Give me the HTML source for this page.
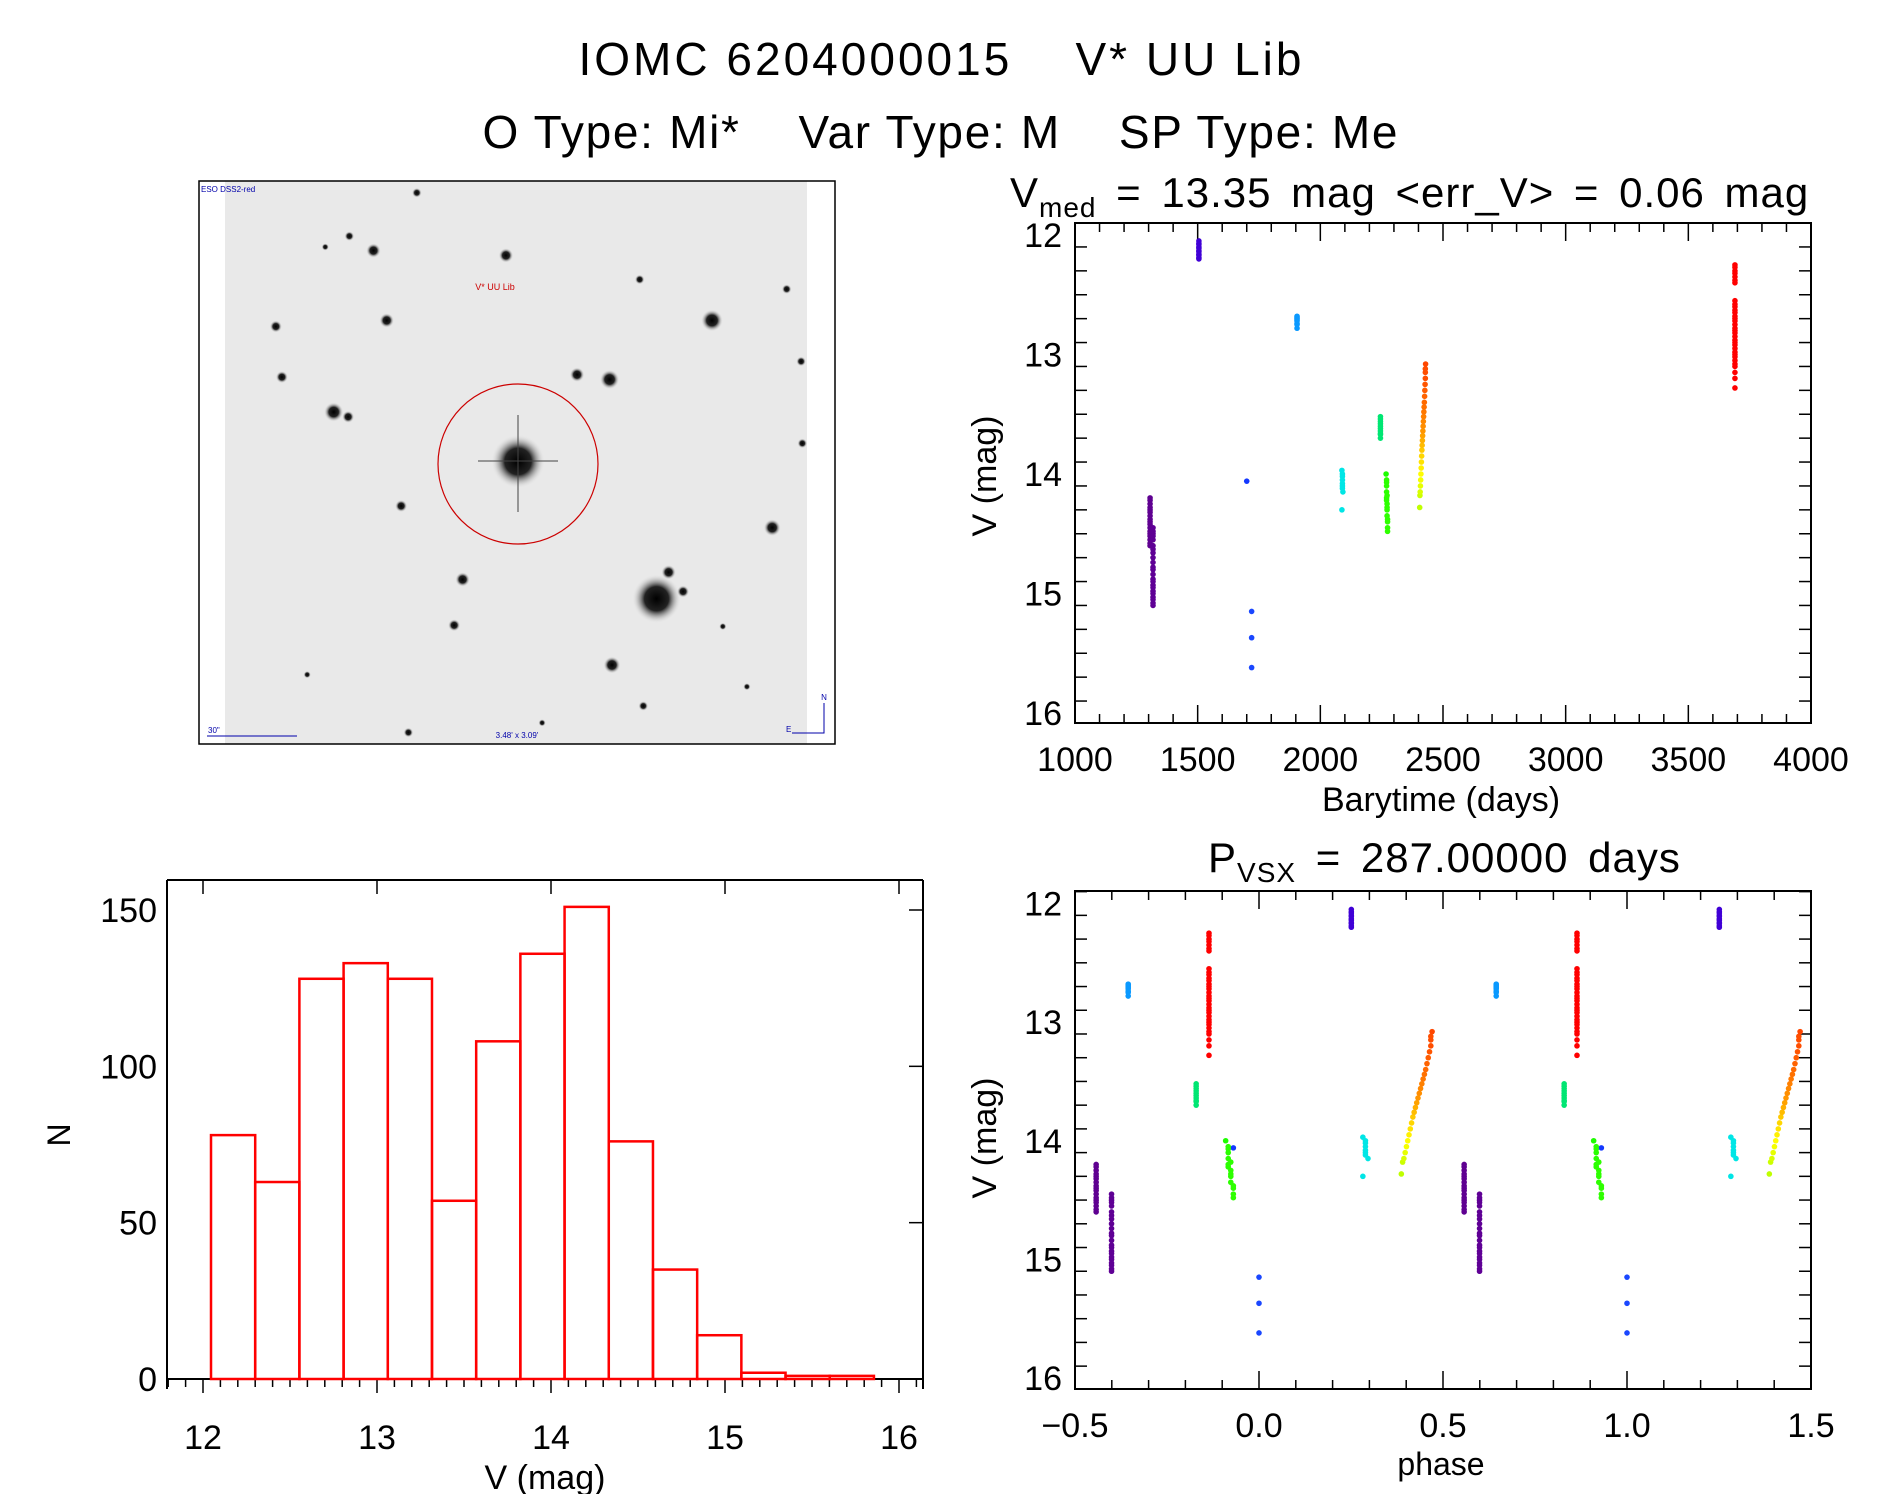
<!DOCTYPE html>
<html><head><meta charset="utf-8"><style>
html,body{margin:0;padding:0;background:#fff}
svg{display:block;font-family:"Liberation Sans",sans-serif}
text{white-space:pre}
</style></head><body>
<svg id="fig" width="1889" height="1494" viewBox="0 0 1889 1494" xmlns="http://www.w3.org/2000/svg">
<defs>
<radialGradient id="star"><stop offset="0" stop-color="#000"/><stop offset="0.5" stop-color="#222"/><stop offset="1" stop-color="#ddd" stop-opacity="0"/></radialGradient>
</defs>
<text x="940" y="75" font-size="46" text-anchor="middle" textLength="723" lengthAdjust="spacing">IOMC 6204000015    V* UU Lib</text>
<text x="940" y="148" font-size="46" text-anchor="middle" textLength="915" lengthAdjust="spacing">O Type: Mi*    Var Type: M    SP Type: Me</text>
<g id="sky"></g>
<g id="lc"></g>
<g id="ph"></g>
<g id="hist"></g>
</svg>
<script>
// ---------- data ----------
const lcTimes = [1306,1306,1306,1306,1306,1306,1306,1306,1306,1306,1306,1306,1306,1306,1306,1306,1306,
1318,1318,1318,1318,1318,1318,1318,1318,1318,1318,1318,1318,1318,1318,1318,1318,1318,1318,1318,1318,1318,1318,1318,
1505,1505,1505,1505,1505,1505,1505,1505,1505,1505,1505,
1700,1720,1720,1720,
1905,1905,1905,1905,1905,1905,1905,1905,
2088,2090,2090,2090,2092,2088,2090,2090,2090,
2245,2245,2245,2245,2245,2245,2245,2245,2245,2245,
2268,2270,2270,2270,2270,2272,2272,2272,2274,2274,2274,2270,2272,2274,2270,2272,
2405,2406,2407,2408,2409,2410,2411,2412,2413,2414,2415,2416,2417,2418,2419,2420,2421,2422,2423,2424,2425,2426,2427,2428,2428,2428,2429,
3690,3690,3690,3690,3690,3690,3690,3690,3690,3690,3690,3690,3690,3690,3690,3690,3690,3690,3690,3690,3690,3690,3690,3690,3690,3690,3690,3690,3690,3690,3690,3690,3690];
const lcMags = [14.2,14.22,14.25,14.28,14.3,14.32,14.35,14.38,14.4,14.42,14.45,14.48,14.5,14.52,14.55,14.58,14.6,
14.45,14.48,14.5,14.55,14.6,14.63,14.66,14.7,14.74,14.78,14.8,14.84,14.88,14.9,14.93,14.95,14.98,15.0,15.03,15.05,15.08,15.1,14.52,
12.05,12.07,12.08,12.1,12.11,12.13,12.14,12.16,12.17,12.19,12.2,
14.06,15.15,15.37,15.62,
12.68,12.69,12.7,12.71,12.72,12.74,12.75,12.78,
13.97,14.0,14.05,14.1,14.15,14.3,14.12,14.02,14.08,
13.52,13.54,13.56,13.58,13.6,13.62,13.64,13.66,13.67,13.7,
14.0,14.05,14.1,14.15,14.2,14.25,14.3,14.35,14.4,14.45,14.48,14.07,14.18,14.38,14.22,14.28,
14.28,14.18,14.15,14.1,14.05,14.0,13.95,13.9,13.85,13.8,13.76,13.72,13.68,13.64,13.6,13.56,13.52,13.48,13.44,13.4,13.35,13.3,13.25,13.2,13.15,13.12,13.08,
12.25,12.27,12.3,12.32,12.35,12.38,12.4,12.55,12.58,12.6,12.63,12.65,12.68,12.7,12.72,12.75,12.78,12.8,12.82,12.85,12.88,12.9,12.92,12.95,12.98,13.0,13.02,13.05,13.08,13.1,13.15,13.2,13.28];
const period = 287.0;
const epoch = 1720;
const histEdgeStart = 12.046, histBinWidth = 0.254;
const histCounts = [78,63,128,133,128,57,108,136,151,76,35,14,2,1,1];
const lcXTicks = [1000,1500,2000,2500,3000,3500,4000];
const magTicks = [12,13,14,15,16];
const phXTicks = [-0.5,0.0,0.5,1.0,1.5];
const phXLabels = ["\u22120.5","0.0","0.5","1.0","1.5"];
const histXTicks = [12,13,14,15,16];
const histYTicks = [0,50,100,150];

const NS="http://www.w3.org/2000/svg";
function mk(tag,attrs,parent,txt){const e=document.createElementNS(NS,tag);for(const k in attrs)e.setAttribute(k,attrs[k]);if(txt!==undefined)e.textContent=txt;parent.appendChild(e);return e;}

const hueStops=[[1300,280,28],[1505,258,42],[1720,228,55],[1905,205,52],[2090,180,45],[2245,150,45],[2270,110,50],[2405,75,50],[2418,35,50],[2430,15,50],[3690,0,50]];
function colorFor(t){let s=hueStops;if(t<=s[0][0])return `hsl(${s[0][1]},100%,${s[0][2]}%)`;
for(let i=1;i<s.length;i++){if(t<=s[i][0]){const f=(t-s[i-1][0])/(s[i][0]-s[i-1][0]);const h=s[i-1][1]+f*(s[i][1]-s[i-1][1]);const l=s[i-1][2]+f*(s[i][2]-s[i-1][2]);return `hsl(${h},100%,${l}%)`;}}
return 'hsl(0,100%,50%)';}

function frame(g,x0,y0,x1,y1){mk('rect',{x:x0,y:y0,width:x1-x0,height:y1-y0,fill:'none',stroke:'#000','stroke-width':2},g);}

// ---------- light curve ----------
(function(){
const g=document.getElementById('lc');
const X0=1075,X1=1811,Y0=223,Y1=723;
const xs=t=>X0+(t-1000)/3000*(X1-X0);
const ys=m=>235+(m-12)*(713-235)/4;
frame(g,X0,Y0,X1,Y1);
for(let t=1000;t<=4000;t+=100){const L=(t%500===0)?18:9;mk('line',{x1:xs(t),x2:xs(t),y1:Y1,y2:Y1-L,stroke:'#000','stroke-width':1.5},g);mk('line',{x1:xs(t),x2:xs(t),y1:Y0,y2:Y0+L,stroke:'#000','stroke-width':1.5},g);}
for(let i=0;i<=21;i++){const m=11.9+i*0.2;const maj=Math.abs(m-Math.round(m))<0.01;const L=maj?25:12;if(ys(m)<Y0||ys(m)>Y1)continue;mk('line',{x1:X0,x2:X0+L,y1:ys(m),y2:ys(m),stroke:'#000','stroke-width':1.5},g);mk('line',{x1:X1,x2:X1-L,y1:ys(m),y2:ys(m),stroke:'#000','stroke-width':1.5},g);}
lcXTicks.forEach(t=>{const e=mk('text',{x:xs(t),y:771,'font-size':34,'text-anchor':'middle'},g,String(t));});
magTicks.forEach(m=>{const e=mk('text',{x:1062,y:ys(m)+12,'font-size':34,'text-anchor':'end'},g,String(m));});
let e=mk('text',{x:1441,y:811,'font-size':34,'text-anchor':'middle'},g,'Barytime (days)');
e=mk('text',{x:0,y:0,'font-size':34,'text-anchor':'middle',transform:'translate(996,476) rotate(-90)'},g,'V (mag)');
e=mk('text',{x:1010,y:207,'font-size':42,'word-spacing':7,'letter-spacing':1},g);
e.innerHTML='V<tspan font-size="28" dy="10">med</tspan><tspan dy="-10"> = 13.35 mag &lt;err_V&gt; = 0.06 mag</tspan>';
for(let i=0;i<lcTimes.length;i++){const c=mk('circle',{cx:xs(lcTimes[i]),cy:ys(lcMags[i]),r:2.8,fill:colorFor(lcTimes[i])},g);}
})();

// ---------- phase plot ----------
(function(){
const g=document.getElementById('ph');
const X0=1075,X1=1811,Y0=891,Y1=1389;
const xs=p=>X0+(p+0.5)/2*(X1-X0);
const ys=m=>903.5+(m-12)*(1378-903.5)/4;
frame(g,X0,Y0,X1,Y1);
for(let i=0;i<=20;i++){const p=-0.5+i*0.1;const maj=(i%5===0);const L=maj?18:9;mk('line',{x1:xs(p),x2:xs(p),y1:Y1,y2:Y1-L,stroke:'#000','stroke-width':1.5},g);mk('line',{x1:xs(p),x2:xs(p),y1:Y0,y2:Y0+L,stroke:'#000','stroke-width':1.5},g);}
for(let i=0;i<=21;i++){const m=11.9+i*0.2;const maj=Math.abs(m-Math.round(m))<0.01;const L=maj?25:12;if(ys(m)<Y0||ys(m)>Y1)continue;mk('line',{x1:X0,x2:X0+L,y1:ys(m),y2:ys(m),stroke:'#000','stroke-width':1.5},g);mk('line',{x1:X1,x2:X1-L,y1:ys(m),y2:ys(m),stroke:'#000','stroke-width':1.5},g);}
phXTicks.forEach((p,i)=>{const e=mk('text',{x:xs(p),y:1437,'font-size':34,'text-anchor':'middle'},g,phXLabels[i]);});
magTicks.forEach(m=>{const e=mk('text',{x:1062,y:ys(m)+12,'font-size':34,'text-anchor':'end'},g,String(m));});
let e=mk('text',{x:1441,y:1475,'font-size':32,'text-anchor':'middle'},g,'phase');
e=mk('text',{x:0,y:0,'font-size':34,'text-anchor':'middle',transform:'translate(996,1138) rotate(-90)'},g,'V (mag)');
e=mk('text',{x:1208,y:872,'font-size':42,'word-spacing':7,'letter-spacing':1},g);
e.innerHTML='P<tspan font-size="28" dy="10">VSX</tspan><tspan dy="-10"> = 287.00000 days</tspan>';
for(let i=0;i<lcTimes.length;i++){let ph=((lcTimes[i]-epoch)/period)%1;if(ph<0)ph+=1;
 [ph-1,ph].forEach(p=>{if(p<-0.5)p+=2;if(p>1.5)return;const c=mk('circle',{cx:xs(p),cy:ys(lcMags[i]),r:2.8,fill:colorFor(lcTimes[i])},g);});}
})();

// ---------- histogram ----------
(function(){
const g=document.getElementById('hist');
const X0=167,X1=923,Y0=880,Y1=1389;
const xs=m=>203+(m-12)*(899-203)/4;
const ys=n=>1379-n*(1379-910)/150;
mk('line',{x1:X0,x2:X1,y1:Y0,y2:Y0,stroke:'#000','stroke-width':2},g);
mk('line',{x1:X0,x2:X0,y1:Y0,y2:Y1,stroke:'#000','stroke-width':2},g);
mk('line',{x1:X1,x2:X1,y1:Y0,y2:Y1,stroke:'#000','stroke-width':2},g);
mk('line',{x1:X0,x2:X1,y1:Y1-10,y2:Y1-10,stroke:'#000','stroke-width':2},g);
for(let i=0;i<=43;i++){const m=11.8+i*0.1;const x=xs(m);if(x<X0-1||x>X1+1)continue;const maj=Math.abs(m-Math.round(m))<0.01;mk('line',{x1:x,x2:x,y1:Y1-10,y2:Y1-10+(maj?14:8),stroke:'#000','stroke-width':1.5},g);if(maj)mk('line',{x1:x,x2:x,y1:Y0,y2:Y0+14,stroke:'#000','stroke-width':1.5},g);}
histYTicks.forEach(n=>{mk('line',{x1:X1,x2:X1-14,y1:ys(n),y2:ys(n),stroke:'#000','stroke-width':1.5},g);const e=mk('text',{x:157,y:ys(n)+12,'font-size':34,'text-anchor':'end'},g,String(n));});
histXTicks.forEach(m=>{const e=mk('text',{x:xs(m),y:1449,'font-size':34,'text-anchor':'middle'},g,String(m));});
let e=mk('text',{x:545,y:1489,'font-size':34,'text-anchor':'middle'},g,'V (mag)');
e=mk('text',{x:0,y:0,'font-size':32,'text-anchor':'middle',transform:'translate(70,1135) rotate(-90)'},g,'N');
histCounts.forEach((n,i)=>{const a=histEdgeStart+i*histBinWidth;const r=mk('rect',{x:xs(a),y:ys(n),width:xs(a+histBinWidth)-xs(a),height:ys(0)-ys(n),fill:'none',stroke:'#f00','stroke-width':2.5},g);});
})();

// ---------- sky image ----------
(function(){
const g=document.getElementById('sky');
mk('rect',{x:225,y:181,width:582,height:563,fill:'#e9e9e9'},g);
mk('rect',{x:199,y:181,width:636,height:563,fill:'none',stroke:'#000','stroke-width':1.5},g);
const stars=[[430,383,22],[545,497,20],[591,266,9],[506,315,8],[479,311,6],[277,342,8],[641,438,7],[508,552,7],[420,212,6],[310,208,6],[384,481,6],[234,313,5],[229,271,5],[333,420,5],[653,240,4],[665,300,4],[666,368,4],[377,519,5],[555,475,6],[567,491,5],[289,346,5],[321,266,6],[346,160,4],[531,232,4],[534,586,4],[339,608,4],[290,196,4],[270,205,3],[600,520,3],[620,570,3],[255,560,3],[450,600,3]];
stars.forEach(s=>{const c=mk('circle',{cx:s[0]*1.2047,cy:s[1]*1.2047,r:s[2]*1.2047,fill:'url(#star)'},g);});
mk('line',{x1:518,x2:518,y1:415,y2:512,stroke:'#444','stroke-width':1},g);
mk('line',{x1:478,x2:558,y1:461,y2:461,stroke:'#444','stroke-width':1},g);
const c=mk('circle',{cx:518,cy:464,r:80,fill:'none',stroke:'#c00','stroke-width':1.2},g);
let e=mk('text',{x:495,y:290,'font-size':9,fill:'#c00','text-anchor':'middle'},g,'V* UU Lib');
e=mk('text',{x:201,y:192,'font-size':8,fill:'#00a'},g,'ESO DSS2-red');
e=mk('text',{x:208,y:733,'font-size':8,fill:'#00a'},g,'30"');
mk('line',{x1:207,x2:297,y1:736,y2:736,stroke:'#00a','stroke-width':1},g);
e=mk('text',{x:517,y:738,'font-size':8,fill:'#00a','text-anchor':'middle'},g,"3.48' x 3.09'");
mk('polyline',{points:'792,733 824,733 824,703',fill:'none',stroke:'#00a','stroke-width':1},g);
e=mk('text',{x:824,y:700,'font-size':8,fill:'#00a','text-anchor':'middle'},g,'N');
e=mk('text',{x:786,y:732,'font-size':8,fill:'#00a'},g,'E');
})();
</script>
</body></html>
